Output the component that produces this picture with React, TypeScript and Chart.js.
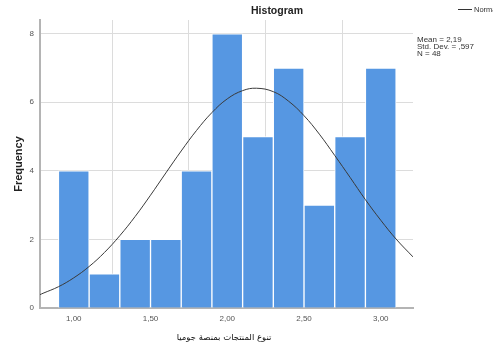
import React, { useEffect, useRef } from "react";
import { Chart, registerables } from "chart.js";

Chart.register(...registerables);

const binCenters = [1.0, 1.2, 1.4, 1.6, 1.8, 2.0, 2.2, 2.4, 2.6, 2.8, 3.0];
const frequencies = [4, 1, 2, 2, 4, 8, 5, 7, 3, 5, 7];
const xTicks = [1.0, 1.5, 2.0, 2.5, 3.0];
const yTicks = [0, 2, 4, 6, 8];
const curveX = [0.78, 0.8, 0.9, 1.0, 1.1, 1.2, 1.3, 1.4, 1.5, 1.6, 1.7, 1.8, 1.9, 2.0, 2.1, 2.19, 2.3, 2.4, 2.5, 2.6, 2.7, 2.8, 2.9, 3.0, 3.1, 3.21];
const curveY = [0.39, 0.43, 0.62, 0.88, 1.21, 1.62, 2.11, 2.67, 3.29, 3.94, 4.58, 5.18, 5.7, 6.1, 6.34, 6.41, 6.31, 6.03, 5.61, 5.07, 4.45, 3.81, 3.16, 2.56, 2.01, 1.49];
const statsLines = ["Mean = 2,19", "Std. Dev. = ,597", "N = 48"];
const chartTitle = "Histogram";
const xTitle = "تنوع المنتجات بمنصة جوميا";
const yTitle = "Frequency";
const legendLabel = "Normal";

const FONT = "'Liberation Sans', Arial, sans-serif";

const textPlugin = {
  id: "spssText",
  afterDraw(chart: any) {
    const ctx = chart.ctx;
    ctx.save();
    // title
    ctx.fillStyle = "#222";
    ctx.font = `bold 10.5px ${FONT}`;
    ctx.textAlign = "center";
    ctx.textBaseline = "middle";
    ctx.fillText(chartTitle, 277, 11);
    // y title
    ctx.save();
    ctx.translate(19, 164);
    ctx.rotate(-Math.PI / 2);
    ctx.font = `bold 11px ${FONT}`;
    ctx.fillText(yTitle, 0, 0);
    ctx.restore();
    // x title
    ctx.fillStyle = "#111";
    ctx.font = `8.5px 'DejaVu Sans', ${FONT}`;
    ctx.fillText(xTitle, 224, 338);
    // stats
    ctx.font = `8px ${FONT}`;
    ctx.textAlign = "left";
    ctx.fillStyle = "#333";
    statsLines.forEach((s, i) => ctx.fillText(s, 417, 40 + i * 7));
    // legend
    ctx.strokeStyle = "#333";
    ctx.lineWidth = 1;
    ctx.beginPath();
    ctx.moveTo(458, 9.5);
    ctx.lineTo(472, 9.5);
    ctx.stroke();
    ctx.font = `7.5px ${FONT}`;
    ctx.fillText(legendLabel, 474, 10);
    ctx.restore();
  },
};

export default function App() {
  const ref = useRef<HTMLCanvasElement>(null);
  useEffect(() => {
    if (!ref.current) return;
    const chart = new Chart(ref.current, {
      type: "bar",
      data: {
        datasets: [
          {
            type: "line",
            data: curveX.map((x, i) => ({ x, y: curveY[i] })),
            borderColor: "#3a3a3a",
            borderWidth: 1,
            pointRadius: 0,
            tension: 0.4,
            fill: false,
            order: 0,
          } as any,
          {
            type: "bar",
            data: binCenters.map((x, i) => ({ x, y: frequencies[i] })),
            backgroundColor: "#5697e2",
            borderColor: "#ffffff",
            borderWidth: 1,
            barPercentage: 1,
            categoryPercentage: 1,
            order: 1,
          } as any,
        ],
      },
      options: {
        responsive: false,
        animation: false,
        layout: { padding: { left: 0, right: 80, top: 20, bottom: 0 } },
        plugins: { legend: { display: false }, tooltip: { enabled: false }, title: { display: false } },
        scales: {
          x: {
            type: "linear",
            offset: false,
            min: 0.78,
            max: 3.21,
            afterBuildTicks: (s: any) => { s.ticks = xTicks.map((v) => ({ value: v })); },
            afterFit: (s: any) => { s.height = 44; },
            grid: { color: "#dcdcdc", lineWidth: 1, drawTicks: false },
            border: { color: "#b4b4b4", width: 2 },
            ticks: {
              padding: 6,
              color: "#555",
              font: { family: FONT, size: 8 },
              callback: (v: any) => Number(v).toFixed(2).replace(".", ","),
              maxRotation: 0,
            },
          },
          y: {
            type: "linear",
            min: 0,
            max: 8.4,
            afterBuildTicks: (s: any) => { s.ticks = yTicks.map((v) => ({ value: v })); },
            afterFit: (s: any) => { s.width = 40; },
            grid: { color: "#dcdcdc", lineWidth: 1, drawTicks: false },
            border: { color: "#b4b4b4", width: 2 },
            ticks: {
              padding: 6,
              color: "#555",
              font: { family: FONT, size: 8 },
            },
          },
        },
      },
      plugins: [textPlugin],
    } as any);
    return () => chart.destroy();
  }, []);
  return (
    <div style={{ position: "absolute", left: 0, top: 0, width: 493, height: 352, background: "#fff" }}>
      <canvas ref={ref} width={493} height={352} />
    </div>
  );
}
